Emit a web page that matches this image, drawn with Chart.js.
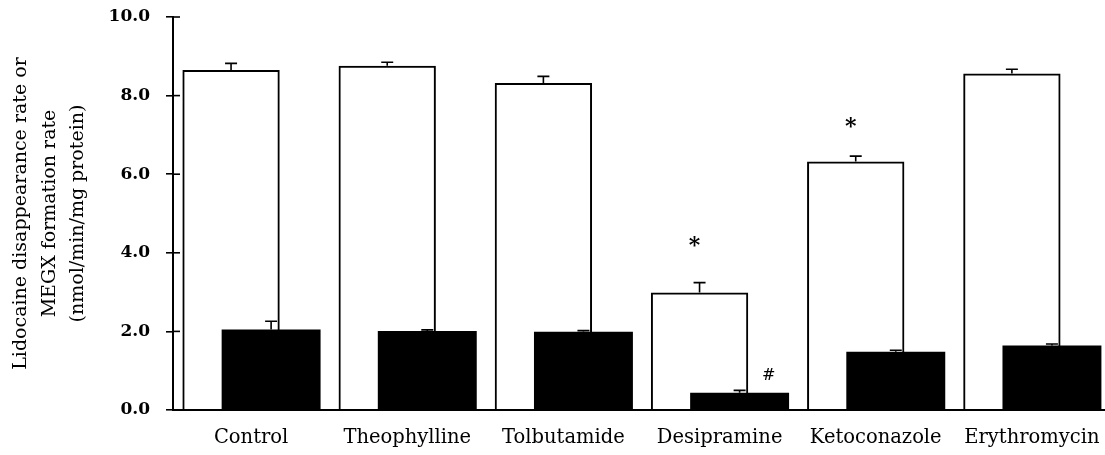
<!DOCTYPE html>
<html>
<head>
<meta charset="utf-8">
<script src="https://cdn.jsdelivr.net/npm/chart.js@4"></script>
<style>
  html, body { margin: 0; padding: 0; background: #fff; overflow: hidden; }
  #wrap { width: 1110px; height: 455px; }
</style>
</head>
<body>
<div id="wrap"><canvas id="chart" width="1110" height="455"></canvas></div>
<script>
// Lidocaine disappearance (open bars) and MEGX formation (filled bars), mean + SE.
const categories = ['Control', 'Theophylline', 'Tolbutamide', 'Desipramine', 'Ketoconazole', 'Erythromycin'];
const disappearance = [8.65, 8.76, 8.32, 2.99, 6.32, 8.56];
const disappearanceErr = [0.17, 0.09, 0.17, 0.25, 0.14, 0.11];
const megx = [2.05, 2.01, 1.99, 0.44, 1.48, 1.64];
const megxErr = [0.21, 0.03, 0.03, 0.06, 0.04, 0.04];

// Significance marks: category, which series, height in data units.
const markText = ['*', '*', '#'];
const markCategory = [3, 4, 3];
const markSeries = [0, 0, 1];
const markValue = [4.22, 7.25, 0.87];

const yTicks = [0, 2, 4, 6, 8, 10];
const yTitle = ['Lidocaine disappearance rate or', 'MEGX formation rate', '(nmol/min/mg protein)'];

const errors = [disappearanceErr, megxErr];

// Upper-only error bars (stem + cap) over each bar.
const errorBarPlugin = {
  id: 'errorBars',
  afterDatasetsDraw(chart) {
    const ctx = chart.ctx;
    const y = chart.scales.y;
    ctx.save();
    ctx.strokeStyle = '#000';
    ctx.lineWidth = 1.6;
    chart.data.datasets.forEach((ds, di) => {
      chart.getDatasetMeta(di).data.forEach((bar, i) => {
        const top = y.getPixelForValue(ds.data[i]);
        const end = y.getPixelForValue(ds.data[i] + errors[di][i]);
        ctx.beginPath();
        ctx.moveTo(bar.x, top);
        ctx.lineTo(bar.x, end);
        ctx.moveTo(bar.x - 6, end);
        ctx.lineTo(bar.x + 6, end);
        ctx.stroke();
      });
    });
    ctx.restore();
  }
};

// '*' and '#' markers, plus the inner half of the y tick marks.
const markPlugin = {
  id: 'marks',
  afterDraw(chart) {
    const ctx = chart.ctx;
    const y = chart.scales.y;
    const area = chart.chartArea;
    ctx.save();
    ctx.fillStyle = '#000';
    ctx.textAlign = 'center';
    ctx.textBaseline = 'middle';
    markText.forEach((t, k) => {
      const bar = chart.getDatasetMeta(markSeries[k]).data[markCategory[k]];
      const dx = t === '#' ? 29 : -5;
      ctx.font = t === '#' ? '16px "DejaVu Serif"' : 'bold 22px "DejaVu Serif"';
      ctx.fillText(t, bar.x + dx, y.getPixelForValue(markValue[k]) + (t === '*' ? 2 : 0));
    });
    ctx.strokeStyle = '#000';
    ctx.lineWidth = 1.6;
    yTicks.forEach((v) => {
      const py = y.getPixelForValue(v);
      ctx.beginPath();
      ctx.moveTo(area.left, py);
      ctx.lineTo(area.left + 7, py);
      ctx.stroke();
    });
    ctx.restore();
  }
};

new Chart(document.getElementById('chart'), {
  type: 'bar',
  data: {
    labels: categories,
    datasets: [
      {
        label: 'Lidocaine disappearance',
        data: disappearance,
        backgroundColor: 'rgba(255,255,255,0)',
        borderColor: '#000',
        borderWidth: 2,
        categoryPercentage: 0.513,
        barPercentage: 2.43
      },
      {
        label: 'MEGX formation',
        data: megx,
        backgroundColor: '#000',
        borderColor: '#000',
        borderWidth: 0,
        categoryPercentage: 0.513,
        barPercentage: 2.47
      }
    ]
  },
  options: {
    responsive: false,
    animation: false,
    devicePixelRatio: 1,
    layout: { padding: { top: 17, right: 0, bottom: 0, left: 0 } },
    plugins: { legend: { display: false }, tooltip: { enabled: false } },
    scales: {
      x: {
        grid: { display: false },
        border: { display: true, color: '#000', width: 2 },
        ticks: { color: '#000', padding: 8, font: { family: 'DejaVu Serif', size: 19.5 } },
        afterFit(scale) { scale.height = 45; }
      },
      y: {
        min: 0,
        max: 10,
        afterBuildTicks(scale) { scale.ticks = yTicks.map((v) => ({ value: v })); },
        grid: { drawOnChartArea: false, drawTicks: true, tickLength: 7, color: '#000', lineWidth: 1.6 },
        border: { display: true, color: '#000', width: 2 },
        ticks: {
          color: '#000',
          padding: 16,
          font: { family: 'DejaVu Serif', size: 17, weight: 'bold' },
          callback: (v) => Number(v).toFixed(1)
        },
        title: {
          display: true,
          text: yTitle,
          color: '#000',
          padding: { top: 7, bottom: 0 },
          font: { family: 'DejaVu Serif', size: 19, lineHeight: 1.5 }
        },
        afterFit(scale) {
          scale.width = 173;
          scale.paddingTop = 0;
          scale.paddingBottom = 0;
        }
      }
    }
  },
  plugins: [errorBarPlugin, markPlugin]
});
</script>
</body>
</html>
